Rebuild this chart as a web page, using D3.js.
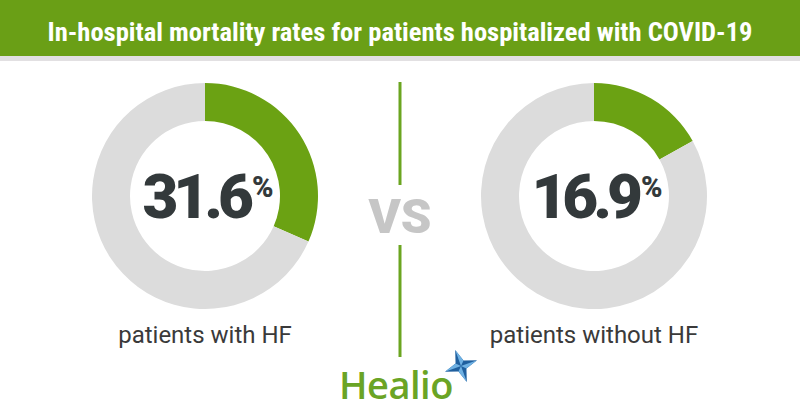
<!DOCTYPE html>
<html>
<head>
<meta charset="utf-8">
<script src="https://cdn.jsdelivr.net/npm/d3@7"></script>
<style>
html,body{margin:0;padding:0;background:#fff;}
svg{display:block;}
</style>
</head>
<body>
<svg id="chart" width="800" height="420"></svg>
<script>
// ---- data ----
const title = "In-hospital mortality rates for patients hospitalized with COVID-19";
const groups = ["patients with HF", "patients without HF"];
const rates = [31.6, 16.9];
const rateLabels = ["31.6", "16.9"];
const vsLabel = "VS";
const brand = "Healio";

const W = 800, H = 420;
const svg = d3.select("#chart");
const green = "#6ba213";
const ringGray = "#dcdcdc";
const dark = "#33393b";

// title band
svg.append("rect").attr("x",0).attr("y",0).attr("width",W).attr("height",56).attr("fill","#6a9f16");
svg.append("rect").attr("x",0).attr("y",56).attr("width",W).attr("height",5).attr("fill","#e2e0e2");
svg.append("text")
  .attr("x",W/2).attr("y",41)
  .attr("text-anchor","middle")
  .attr("fill","#fff")
  .attr("font-family","'Roboto Condensed','Liberation Sans Narrow','DejaVu Sans Condensed',Roboto,sans-serif")
  .attr("font-weight",700)
  .attr("font-size",25)
  .attr("textLength",705)
  .attr("lengthAdjust","spacingAndGlyphs")
  .text(title);

const xScale = d3.scalePoint().domain(groups).range([205, 594]);
const pie = d3.pie().sort(null).value(d => d);
const arc = d3.arc().innerRadius(75).outerRadius(113);
const cy = 196;

groups.forEach((g, i) => {
  const cx = xScale(g);
  const gg = svg.append("g").attr("transform", `translate(${cx},${cy})`);
  gg.selectAll("path")
    .data(pie([rates[i], 100 - rates[i]]))
    .join("path")
    .attr("d", arc)
    .attr("fill", (d, j) => j === 0 ? green : ringGray);

  const t = gg.append("text")
    .attr("x", 3).attr("y", 22)
    .attr("text-anchor","middle")
    .attr("fill", dark)
    .attr("font-family","Roboto,'Noto Sans',sans-serif")
    .attr("font-weight",900)
    .attr("font-size",62);
  t.append("tspan").attr("letter-spacing",-5).text(rateLabels[i]);
  t.append("tspan").attr("font-size",29).attr("dy",-21).attr("dx",3).attr("letter-spacing",0).text("%");

  svg.append("text")
    .attr("x", cx).attr("y", 343)
    .attr("text-anchor","middle")
    .attr("fill","#3a3a3a")
    .attr("font-family","Roboto,'Noto Sans',sans-serif")
    .attr("font-size",24)
    .text(g);
});

// divider
svg.append("line").attr("x1",400).attr("x2",400).attr("y1",82).attr("y2",185)
  .attr("stroke","#6ba520").attr("stroke-width",3);
svg.append("line").attr("x1",400).attr("x2",400).attr("y1",245).attr("y2",357)
  .attr("stroke","#6ba520").attr("stroke-width",3);
svg.append("text")
  .attr("x",400).attr("y",233)
  .attr("text-anchor","middle")
  .attr("fill","#c6c6c6")
  .attr("font-family","Roboto,'Noto Sans',sans-serif")
  .attr("font-weight",900)
  .attr("font-size",49)
  .text(vsLabel);

// logo
svg.append("text")
  .attr("x",339).attr("y",399)
  .attr("fill","#6aa425")
  .attr("font-family","'Open Sans','Noto Sans',sans-serif")
  .attr("font-weight",600)
  .attr("font-size",38)
  .attr("letter-spacing",-0.5)
  .text(brand);

// star (4-point compass)
const star = svg.append("g").attr("transform","translate(461,366) rotate(-20)");
const R = 17, r = 6;
const pts = [];
for (let k = 0; k < 8; k++) {
  const a = -Math.PI/2 + k * Math.PI/4;
  const rad = k % 2 === 0 ? R : r;
  pts.push([rad*Math.cos(a), rad*Math.sin(a)]);
}
star.append("path").attr("d", d3.line()(pts) + "Z").attr("fill","#1f5f9e");
for (let k = 0; k < 8; k += 2) {
  const tip = pts[k], side = pts[(k+1)%8];
  star.append("path").attr("d", d3.line()([[0,0], tip, side]) + "Z")
    .attr("fill","#6fb1e3");
}
</script>
</body>
</html>
